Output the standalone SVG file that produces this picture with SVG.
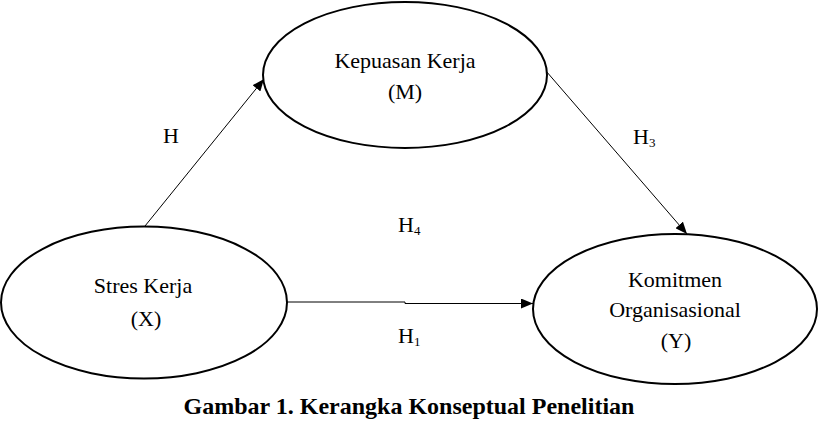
<svg xmlns="http://www.w3.org/2000/svg" width="818" height="421" viewBox="0 0 818 421">
<style>
.n{fill:#fff;stroke:#000;stroke-width:2}
.t{font-family:'Liberation Serif','Times New Roman',serif;font-size:22px;fill:#000;text-anchor:middle}
.s{font-family:'Liberation Serif','Times New Roman',serif;font-size:22px;fill:#000}
.c{stroke:#000;stroke-width:1;fill:none}
.cap{font-family:'Liberation Serif','Times New Roman',serif;font-size:24px;font-weight:bold;fill:#000;text-anchor:middle}
</style>
<defs>
<marker id="a" viewBox="0 0 12 10" refX="12" refY="5" markerWidth="12" markerHeight="10" markerUnits="userSpaceOnUse" orient="auto">
<path d="M0,0 L12,5 L0,10 Z" fill="#000"/>
</marker>
</defs>
<rect width="818" height="421" fill="#fff"/>
<g id="connectors">
<line class="c" x1="145" y1="226" x2="264" y2="79" marker-end="url(#a)"/>
<line class="c" x1="546" y1="71" x2="687" y2="234" marker-end="url(#a)"/>
<path class="c" d="M287,302 L405,302 L405,303.5 L533,303.5" marker-end="url(#a)"/>
</g>
<g id="node-M">
<ellipse class="n" cx="405" cy="75" rx="142" ry="73"/>
<text class="t" x="405" y="68">Kepuasan Kerja</text>
<text class="t" x="405" y="99">(M)</text>
</g>
<g id="node-X">
<ellipse class="n" cx="144" cy="302.5" rx="143" ry="76"/>
<text class="t" x="143" y="293">Stres Kerja</text>
<text class="t" x="146" y="326">(X)</text>
</g>
<g id="node-Y">
<ellipse class="n" cx="675" cy="309" rx="142" ry="75"/>
<text class="t" x="675" y="287">Komitmen</text>
<text class="t" x="675" y="317">Organisasional</text>
<text class="t" x="676" y="348">(Y)</text>
</g>
<g id="labels">
<text class="s" x="163" y="143">H</text>
<text class="s" x="633" y="144">H<tspan font-size="13" dy="3">3</tspan></text>
<text class="s" x="398" y="232">H<tspan font-size="13" dy="3">4</tspan></text>
<text class="s" x="398" y="343">H<tspan font-size="13" dy="3">1</tspan></text>
</g>
<text class="cap" x="409" y="414">Gambar 1. Kerangka Konseptual Penelitian</text>
</svg>
